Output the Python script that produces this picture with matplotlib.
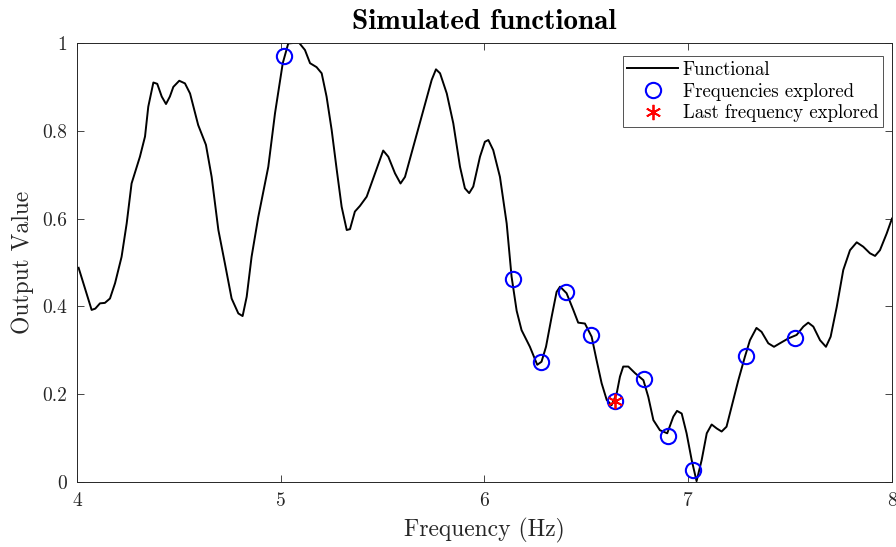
import matplotlib
matplotlib.use('Agg')
import matplotlib.pyplot as plt
import numpy as np

# Functional curve
freq = [4.008, 4.040, 4.072, 4.090, 4.113, 4.137, 4.162, 4.187, 4.219, 4.244,
        4.268, 4.309, 4.334, 4.350, 4.375, 4.394, 4.416, 4.437, 4.456, 4.473,
        4.502, 4.530, 4.555, 4.595, 4.633, 4.661, 4.694, 4.726, 4.759, 4.792,
        4.813, 4.833, 4.857, 4.890, 4.939, 4.972, 5.010, 5.037, 5.062, 5.091,
        5.119, 5.144, 5.176, 5.201, 5.225, 5.250, 5.275, 5.299, 5.324, 5.340,
        5.364, 5.389, 5.422, 5.463, 5.503, 5.528, 5.561, 5.588, 5.610, 5.651,
        5.700, 5.741, 5.762, 5.782, 5.815, 5.847, 5.880, 5.904, 5.925, 5.945,
        5.978, 6.002, 6.019, 6.043, 6.076, 6.109, 6.133, 6.158, 6.182, 6.223,
        6.259, 6.280, 6.302, 6.330, 6.354, 6.371, 6.403, 6.436, 6.460, 6.493,
        6.526, 6.550, 6.575, 6.600, 6.624, 6.649, 6.665, 6.681, 6.706, 6.739,
        6.780, 6.804, 6.829, 6.861, 6.897, 6.927, 6.945, 6.968, 6.992, 7.017,
        7.041, 7.066, 7.091, 7.115, 7.140, 7.164, 7.188, 7.213, 7.246, 7.278,
        7.303, 7.335, 7.360, 7.393, 7.421, 7.450, 7.491, 7.532, 7.565, 7.589,
        7.614, 7.647, 7.676, 7.699, 7.729, 7.761, 7.794, 7.827, 7.859, 7.892,
        7.917, 7.941, 7.974, 8.000]
value = [0.488, 0.440, 0.392, 0.395, 0.407, 0.408, 0.418, 0.453, 0.513, 0.589,
         0.680, 0.741, 0.787, 0.855, 0.910, 0.907, 0.878, 0.861, 0.878, 0.900,
         0.914, 0.908, 0.885, 0.813, 0.768, 0.695, 0.574, 0.498, 0.418, 0.384,
         0.378, 0.422, 0.513, 0.604, 0.718, 0.840, 0.954, 0.999, 1.000, 1.000,
         0.984, 0.954, 0.945, 0.931, 0.878, 0.802, 0.711, 0.627, 0.574, 0.576,
         0.616, 0.629, 0.650, 0.703, 0.755, 0.741, 0.703, 0.680, 0.695, 0.764,
         0.847, 0.916, 0.940, 0.931, 0.885, 0.817, 0.718, 0.669, 0.658, 0.673,
         0.741, 0.775, 0.779, 0.756, 0.695, 0.589, 0.468, 0.390, 0.346, 0.308,
         0.267, 0.274, 0.308, 0.377, 0.433, 0.445, 0.430, 0.392, 0.363, 0.361,
         0.331, 0.278, 0.225, 0.187, 0.175, 0.202, 0.240, 0.263, 0.263, 0.248,
         0.232, 0.194, 0.141, 0.118, 0.111, 0.149, 0.162, 0.156, 0.111, 0.050,
         0.002, 0.050, 0.111, 0.131, 0.122, 0.115, 0.126, 0.172, 0.232, 0.285,
         0.323, 0.351, 0.342, 0.316, 0.308, 0.316, 0.327, 0.335, 0.354, 0.363,
         0.354, 0.323, 0.308, 0.331, 0.399, 0.483, 0.528, 0.546, 0.536, 0.521,
         0.515, 0.528, 0.566, 0.600]

# explored frequencies
explored_f = [5.016, 6.140, 6.277, 6.400, 6.523, 6.641, 6.783, 6.901, 7.023, 7.283, 7.524]
explored_v = [0.970, 0.462, 0.273, 0.433, 0.335, 0.184, 0.235, 0.105, 0.027, 0.287, 0.328]

last_f = [6.641]
last_v = [0.184]

plt.rcParams['font.family'] = ['cmr10', 'DejaVu Serif']
plt.rcParams['axes.formatter.use_mathtext'] = True
plt.rcParams['axes.unicode_minus'] = False

fig = plt.figure(figsize=(8.96, 5.47), dpi=100)
ax = fig.add_axes([0.0859, 0.1188, 0.9096, 0.8026])

axcol = '#262626'
ax.plot(freq, value, color='black', linewidth=1.4, label='Functional')
ax.plot(explored_f, explored_v, linestyle='none', marker='o', markersize=11,
        markerfacecolor='none', markeredgecolor='blue', markeredgewidth=1.5,
        label='Frequencies explored')
ax.plot(last_f, last_v, linestyle='none', marker=(6, 2, 0), markersize=11,
        color='red', markeredgewidth=1.3, label='Last frequency explored')

ax.set_xlim(4, 8)
ax.set_ylim(0, 1)
ax.set_xticks([4, 5, 6, 7, 8])
ax.set_yticks([0, 0.2, 0.4, 0.6, 0.8, 1])
ax.set_yticklabels(['0', '0.2', '0.4', '0.6', '0.8', '1'])
ax.set_xticklabels(['4', '5', '6', '7', '8'])

ax.tick_params(direction='in', top=True, right=True, length=5, width=0.6,
               colors=axcol, labelsize=14, pad=7)
for s in ax.spines.values():
    s.set_color(axcol)
    s.set_linewidth(0.7)

ax.set_xlabel('Frequency (Hz)', fontsize=17, color=axcol, labelpad=6)
ax.set_ylabel('Output Value', fontsize=17, color=axcol, labelpad=6)
ax.set_title('Simulated functional', fontsize=21, fontfamily=['cmb10', 'DejaVu Serif'],
             pad=10)

leg = ax.legend(loc='upper right', bbox_to_anchor=(0.989, 0.970), fontsize=13.5,
                frameon=True, fancybox=False, edgecolor=axcol,
                handlelength=2.7, handletextpad=0.25, borderaxespad=0.0,
                labelspacing=0.2, borderpad=0.25)
leg.get_frame().set_linewidth(0.7)

fig.savefig('out.png', dpi=100)
